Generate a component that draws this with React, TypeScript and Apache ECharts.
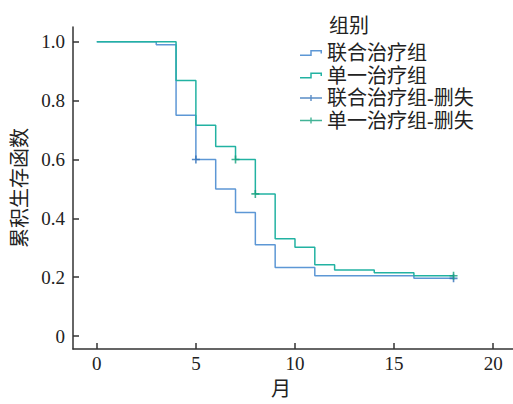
import React, { useEffect, useRef } from 'react';
import * as echarts from 'echarts';

const comboTimes = [0, 3, 4, 5, 6, 7, 8, 9, 11, 16, 18];
const comboSurv = [1, 0.99, 0.75, 0.6, 0.5, 0.42, 0.31, 0.233, 0.205, 0.196, 0.196];
const comboCensorTimes = [5, 18];
const comboCensorSurv = [0.6, 0.196];

const singleTimes = [0, 4, 5, 6, 7, 8, 9, 10, 11, 12, 14, 16, 18];
const singleSurv = [1, 0.868, 0.716, 0.644, 0.6, 0.483, 0.331, 0.302, 0.242, 0.224, 0.215, 0.205, 0.205];
const singleCensorTimes = [7, 8, 18];
const singleCensorSurv = [0.6, 0.483, 0.205];

const xTicks = [0, 5, 10, 15, 20];
const yTicks = [0, 0.2, 0.4, 0.6, 0.8, 1.0];
const seriesNames = ['联合治疗组', '单一治疗组', '联合治疗组-删失', '单一治疗组-删失'];
const legendTitle = '组别';
const xName = '月';
const yName = '累积生存函数';

const FONT = "'Times New Roman', 'Liberation Serif', 'DejaVu Serif', 'Noto Sans CJK SC', serif";
const BLUE = '#5d97d5';
const TEAL = '#22b2a2';
const BLUE_DARK = '#2f6fb8';
const TEAL_DARK = '#13a07c';

const STEP_ICON =
  'path://M0,4.5 L10.25,4.5 L10.25,0 L22,0 L22,3.5 L20.5,3.5 L20.5,1.5 L11.75,1.5 L11.75,6 L0,6 Z';
const CROSS_ICON =
  'path://M0,2.3 L10.3,2.3 L10.3,0 L11.7,0 L11.7,2.3 L22,2.3 L22,3.7 L11.7,3.7 L11.7,6 L10.3,6 L10.3,3.7 L0,3.7 Z';
const PLUS =
  'path://M0,4 L4,4 L4,0 L6,0 L6,4 L10,4 L10,6 L6,6 L6,10 L4,10 L4,6 L0,6 Z';

const zip = (a: number[], b: number[]) => a.map((v, i) => [v, b[i]]);

export default function App() {
  const ref = useRef<HTMLDivElement>(null);
  useEffect(() => {
    if (!ref.current) return;
    const chart = echarts.init(ref.current, null, { renderer: 'svg' });
    chart.setOption({
      animation: false,
      backgroundColor: '#fff',
      textStyle: { fontFamily: FONT },
      title: {
        text: legendTitle,
        left: 324,
        top: 11,
        textStyle: { fontFamily: FONT, fontSize: 20, fontWeight: 'normal', color: '#222' },
      },
      legend: {
        orient: 'vertical',
        left: 295,
        top: 38,
        itemWidth: 22,
        itemHeight: 6,
        itemGap: 2.5,
        textStyle: { fontFamily: FONT, fontSize: 20, lineHeight: 20, color: '#222' },
        data: [
          { name: seriesNames[0], icon: STEP_ICON, itemStyle: { color: BLUE, borderWidth: 0 } },
          { name: seriesNames[1], icon: STEP_ICON, itemStyle: { color: TEAL, borderWidth: 0 } },
          { name: seriesNames[2], icon: CROSS_ICON, itemStyle: { color: BLUE_DARK, borderWidth: 0 } },
          { name: seriesNames[3], icon: CROSS_ICON, itemStyle: { color: TEAL_DARK, borderWidth: 0 } },
        ],
      },
      grid: { left: 73, top: 27, width: 442, bottom: 52, containLabel: false },
      xAxis: {
        type: 'value',
        min: -1.2,
        max: 21,
        name: xName,
        nameLocation: 'middle',
        nameGap: 30,
        nameTextStyle: { fontFamily: FONT, fontSize: 20, color: '#222', padding: [0, 24, 0, 0] },
        axisLine: { show: true, onZero: false, lineStyle: { color: '#333', width: 1.5 } },
        axisTick: { show: true, inside: true, length: 6, customValues: xTicks, lineStyle: { color: '#333', width: 1.5 } },
        axisLabel: { customValues: xTicks, fontFamily: FONT, fontSize: 19, color: '#222', margin: 5 },
        splitLine: { show: false },
      },
      yAxis: {
        type: 'value',
        min: -0.044,
        max: 1.05,
        name: yName,
        nameLocation: 'middle',
        nameGap: 39,
        nameTextStyle: { fontFamily: FONT, fontSize: 20, color: '#222' },
        axisLine: { show: true, onZero: false, lineStyle: { color: '#333', width: 1.5 } },
        axisTick: { show: true, inside: true, length: 6, customValues: yTicks, lineStyle: { color: '#333', width: 1.5 } },
        axisLabel: {
          customValues: yTicks,
          fontFamily: FONT,
          fontSize: 19,
          color: '#222',
          margin: 8,
          formatter: (v: number) => (v === 0 ? '0' : v.toFixed(1)),
        },
        splitLine: { show: false },
      },
      series: [
        {
          name: seriesNames[0],
          type: 'line',
          step: 'end',
          symbol: 'none',
          data: zip(comboTimes, comboSurv),
          itemStyle: { color: BLUE },
          lineStyle: { color: BLUE, width: 1.5 },
          z: 2,
        },
        {
          name: seriesNames[1],
          type: 'line',
          step: 'end',
          symbol: 'none',
          data: zip(singleTimes, singleSurv),
          itemStyle: { color: TEAL },
          lineStyle: { color: TEAL, width: 1.5 },
          z: 3,
        },
        {
          name: seriesNames[2],
          type: 'scatter',
          symbol: PLUS,
          symbolSize: 8,
          data: zip(comboCensorTimes, comboCensorSurv),
          itemStyle: { color: BLUE_DARK },
          z: 4,
        },
        {
          name: seriesNames[3],
          type: 'scatter',
          symbol: PLUS,
          symbolSize: 8,
          data: zip(singleCensorTimes, singleCensorSurv),
          itemStyle: { color: TEAL_DARK },
          z: 5,
        },
      ],
    });
    return () => chart.dispose();
  }, []);
  return <div ref={ref} style={{ width: 513, height: 404, position: 'absolute', left: 0, top: 0 }} />;
}
